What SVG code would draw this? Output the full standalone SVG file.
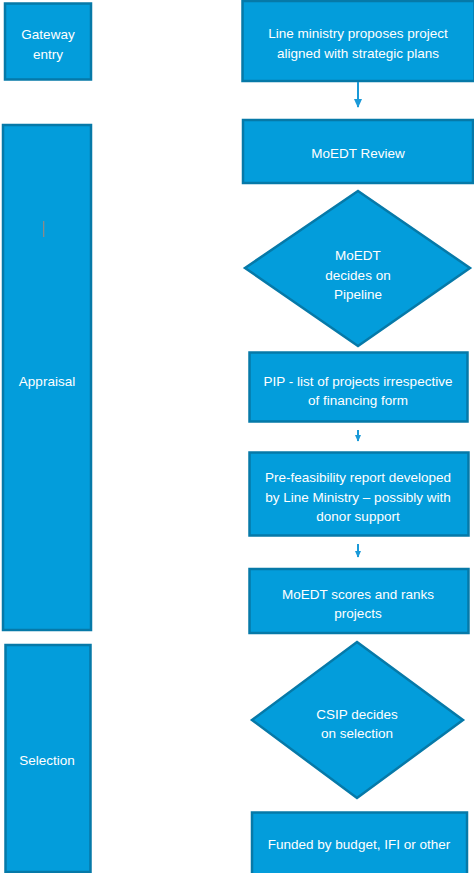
<svg xmlns="http://www.w3.org/2000/svg" width="474" height="873" viewBox="0 0 474 873">
  <style>
    .box { fill: #039ddb; stroke: #0679a8; stroke-width: 2.5; }
    .lbl { fill: #ffffff; font-family: "Liberation Sans", Arial, sans-serif; font-size: 13.5px; text-anchor: middle; }
    .conn { stroke: #1a9ad8; stroke-width: 2; fill: none; }
  </style>
  <defs>
    <marker id="head" viewBox="0 0 10 10" refX="9" refY="5" markerWidth="9" markerHeight="9" orient="auto" markerUnits="userSpaceOnUse">
      <path d="M0,0.5 L10,5 L0,9.5 z" fill="#1a9ad8"/>
    </marker>
    <marker id="head-sm" viewBox="0 0 10 10" refX="9" refY="5" markerWidth="7" markerHeight="7" orient="auto" markerUnits="userSpaceOnUse">
      <path d="M0,0.5 L10,5 L0,9.5 z" fill="#1a9ad8"/>
    </marker>
  </defs>

  <rect width="474" height="873" fill="#ffffff"/>

  <!-- stage column -->
  <g id="stage-gateway">
    <rect class="box" x="5" y="3.5" width="86" height="76"/>
    <text class="lbl" x="48" y="39">Gateway</text>
    <text class="lbl" x="48" y="59">entry</text>
  </g>
  <g id="stage-appraisal">
    <rect class="box" x="3" y="125" width="88" height="505"/>
    <rect x="43" y="221" width="1.3" height="16" fill="#8a8a8a"/>
    <text class="lbl" x="47" y="386">Appraisal</text>
  </g>
  <g id="stage-selection">
    <rect class="box" x="5.5" y="645" width="85" height="227"/>
    <text class="lbl" x="47" y="765">Selection</text>
  </g>

  <!-- process column -->
  <g id="proposal">
    <rect class="box" x="242.5" y="1" width="232" height="80"/>
    <text class="lbl" x="358" y="38">Line ministry proposes project</text>
    <text class="lbl" x="358" y="58">aligned with strategic plans</text>
  </g>
  <g id="review">
    <rect class="box" x="243" y="120" width="230" height="63"/>
    <text class="lbl" x="358" y="158">MoEDT Review</text>
  </g>
  <g id="pipeline-decision">
    <polygon class="box" points="358,191 470,268 358,346 245,268"/>
    <text class="lbl" x="358" y="260">MoEDT</text>
    <text class="lbl" x="358" y="280">decides on</text>
    <text class="lbl" x="358" y="299">Pipeline</text>
  </g>
  <g id="pip">
    <rect class="box" x="249.5" y="352.5" width="218" height="69"/>
    <text class="lbl" x="358" y="386">PIP - list of projects irrespective</text>
    <text class="lbl" x="358" y="405">of financing form</text>
  </g>
  <g id="prefeasibility">
    <rect class="box" x="249.5" y="452.5" width="219" height="83"/>
    <text class="lbl" x="358" y="482">Pre-feasibility report developed</text>
    <text class="lbl" x="358" y="502">by Line Ministry – possibly with</text>
    <text class="lbl" x="358" y="521">donor support</text>
  </g>
  <g id="scoring">
    <rect class="box" x="249.5" y="569" width="219" height="64"/>
    <text class="lbl" x="358" y="599">MoEDT scores and ranks</text>
    <text class="lbl" x="358" y="618">projects</text>
  </g>
  <g id="selection-decision">
    <polygon class="box" points="357,642 463,720 357,798 252,720"/>
    <text class="lbl" x="357" y="719">CSIP decides</text>
    <text class="lbl" x="357" y="738">on selection</text>
  </g>
  <g id="funding">
    <rect class="box" x="252" y="812.5" width="215" height="62"/>
    <text class="lbl" x="359" y="849">Funded by budget, IFI or other</text>
  </g>

  <!-- connectors -->
  <g id="connectors">
    <line class="conn" x1="358" y1="82" x2="358" y2="107" marker-end="url(#head)"/>
    <line class="conn" x1="358" y1="430" x2="358" y2="441" marker-end="url(#head-sm)"/>
    <line class="conn" x1="358" y1="544" x2="358" y2="557" stroke-width="1.3" marker-end="url(#head-sm)"/>
  </g>
</svg>
